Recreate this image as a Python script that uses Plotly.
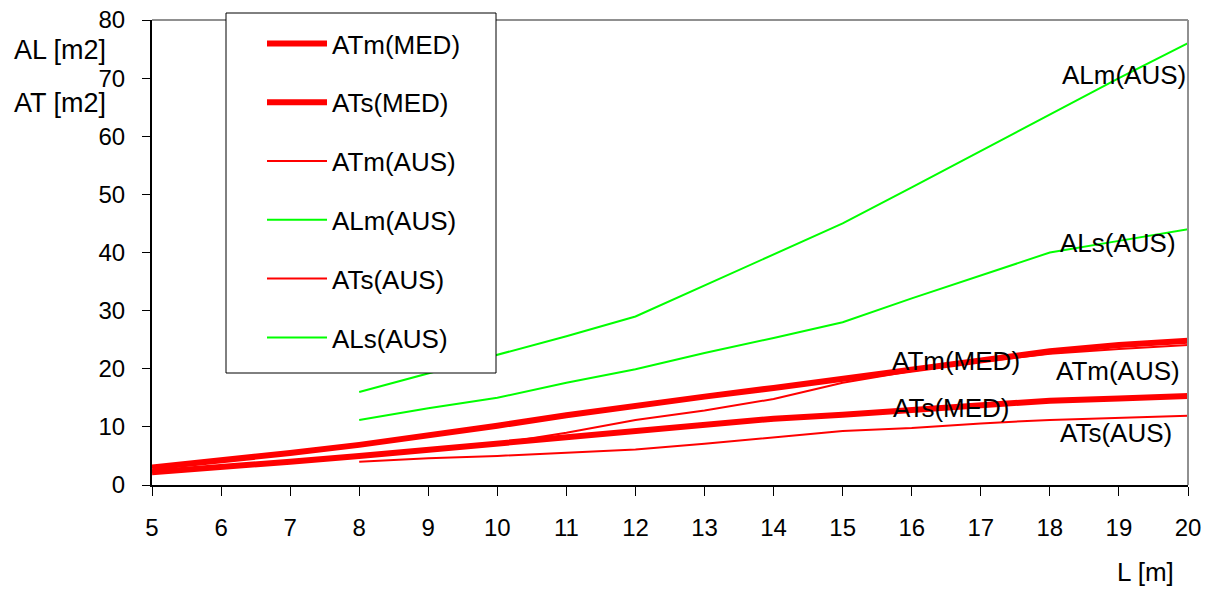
import plotly.graph_objects as go

L_all = list(range(5, 21))
L_aus = list(range(8, 21))

ATm_MED = [3.0, 4.2, 5.5, 6.9, 8.5, 10.2, 12.0, 13.7, 15.2, 16.7, 18.3, 19.9, 21.5, 23.0, 24.1, 24.8]
ATs_MED = [2.2, 3.0, 4.0, 5.0, 6.1, 7.1, 8.1, 9.3, 10.3, 11.4, 12.1, 12.9, 13.8, 14.5, 14.9, 15.3]
ATm_AUS = [5.0, 6.1, 7.1, 9.0, 11.2, 12.8, 14.8, 17.6, 19.6, 21.2, 22.6, 23.4, 24.1]
ALm_AUS = [16.0, 19.2, 22.3, 25.6, 29.0, 34.3, 39.6, 45.0, 51.2, 57.5, 63.8, 70.0, 76.0]
ATs_AUS = [4.0, 4.6, 5.0, 5.5, 6.1, 7.1, 8.2, 9.3, 9.8, 10.6, 11.2, 11.6, 11.9]
ALs_AUS = [11.2, 13.2, 15.0, 17.6, 19.9, 22.7, 25.3, 28.0, 32.1, 36.0, 40.0, 42.0, 44.0]

series = [
    ("ATm(MED)", L_all, ATm_MED, "#FF0000", 6),
    ("ATs(MED)", L_all, ATs_MED, "#FF0000", 6),
    ("ATm(AUS)", L_aus, ATm_AUS, "#FF0000", 2),
    ("ALm(AUS)", L_aus, ALm_AUS, "#00FF00", 2),
    ("ATs(AUS)", L_aus, ATs_AUS, "#FF0000", 2),
    ("ALs(AUS)", L_aus, ALs_AUS, "#00FF00", 2),
]

# in-plot labels: (text, x, y)
labels = [
    ("ALm(AUS)", 19.07, 70.5),
    ("ALs(AUS)", 18.99, 41.7),
    ("ATm(MED)", 16.64, 21.4),
    ("ATm(AUS)", 18.99, 19.6),
    ("ATs(MED)", 16.58, 13.3),
    ("ATs(AUS)", 18.96, 9.0),
]

FONT = "Liberation Sans, Arial, sans-serif"

fig = go.Figure()
for i, (name, xs, ys, col, w) in enumerate(series):
    fig.add_trace(go.Scatter(x=xs, y=ys, mode="lines", name=name,
                             line=dict(color=col, width=w),
                             legendgroup="g%d" % i))

for text, x, y in labels:
    fig.add_annotation(x=x, y=y, xref="x", yref="y", text=text, showarrow=False,
                       font=dict(family=FONT, size=26, color="black"))

fig.add_annotation(x=-0.1351, y=0.9355, xref="paper", yref="paper", text="AL [m2]",
                   showarrow=False, xanchor="left", yanchor="middle",
                   font=dict(family=FONT, size=27, color="black"))
fig.add_annotation(x=-0.1351, y=0.8215, xref="paper", yref="paper", text="AT [m2]",
                   showarrow=False, xanchor="left", yanchor="middle",
                   font=dict(family=FONT, size=27, color="black"))
fig.add_annotation(x=0.9885, y=-0.187, xref="paper", yref="paper", text="L [m]",
                   showarrow=False, xanchor="right", yanchor="middle",
                   font=dict(family=FONT, size=26, color="black"))

# grey top and right frame lines
fig.add_shape(type="line", xref="paper", yref="paper", x0=0, x1=1, y0=1, y1=1,
              line=dict(color="#909090", width=2))
fig.add_shape(type="line", xref="paper", yref="paper", x0=1, x1=1, y0=0, y1=1,
              line=dict(color="#909090", width=2))
# legend box
fig.add_shape(type="rect", xref="paper", yref="paper", layer="above",
              x0=(226 - 152) / 1036, x1=(496 - 152) / 1036,
              y0=(485 - 373) / 465, y1=(485 - 13) / 465,
              fillcolor="white", line=dict(color="black", width=1))

fig.update_layout(
    width=1213, height=589,
    margin=dict(l=152, r=25, t=20, b=104),
    paper_bgcolor="white", plot_bgcolor="white",
    font=dict(family=FONT, size=24, color="black"),
    showlegend=True,
    legend=dict(x=(262 - 152) / 1036, xanchor="left", y=(485 - 20) / 465, yanchor="top",
                bgcolor="rgba(0,0,0,0)", borderwidth=0,
                font=dict(family=FONT, size=26, color="black"),
                tracegroupgap=22, itemwidth=60),
    xaxis=dict(range=[5, 20], tickmode="linear", tick0=5, dtick=1,
               showline=True, linecolor="black", linewidth=2,
               ticks="outside", ticklen=9, tickcolor="black", tickwidth=1,
               showgrid=False, zeroline=False, ticklabelstandoff=11,
               automargin=False, tickfont=dict(family=FONT, size=24)),
    yaxis=dict(range=[0, 80], tickmode="linear", tick0=0, dtick=10,
               showline=True, linecolor="black", linewidth=2,
               ticks="outside", ticklen=8, tickcolor="black", tickwidth=1,
               showgrid=False, zeroline=False, ticklabelstandoff=12,
               automargin=False, tickfont=dict(family=FONT, size=24)),
)

fig.write_html("out.html", config={"displayModeBar": False},
               post_script="document.body.style.margin='0';")
